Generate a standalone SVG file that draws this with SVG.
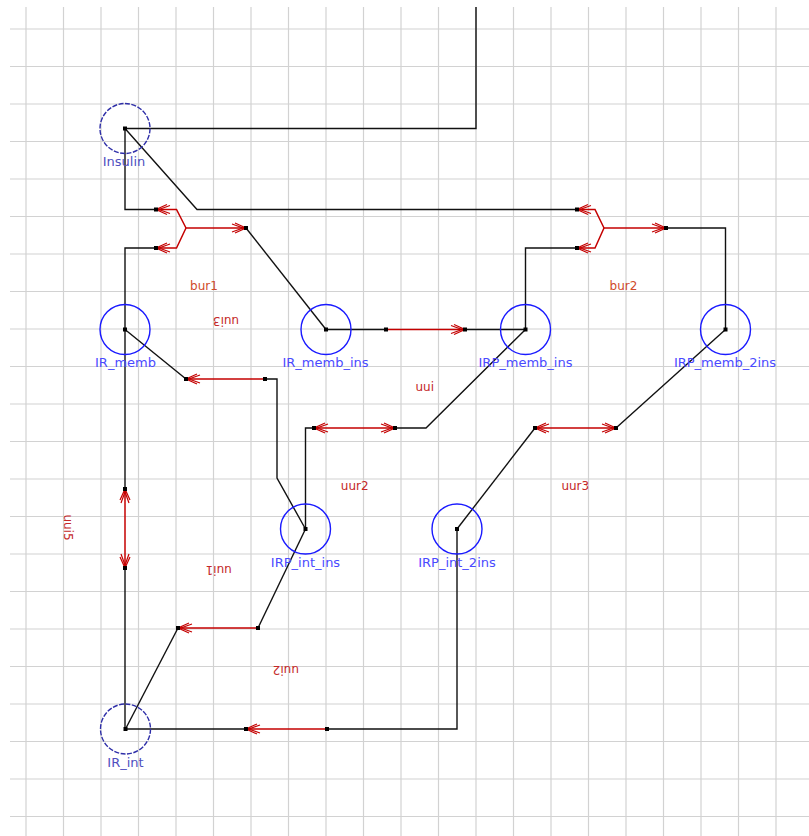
<svg xmlns="http://www.w3.org/2000/svg" width="809" height="836" viewBox="0 0 809 836">
<style>
.grid{fill:none;stroke:#d2d2d2;stroke-width:1.2}
.ln{fill:none;stroke:#111;stroke-width:1.4}
.rx{fill:none;stroke:#c40000;stroke-width:1.5}
.sq{fill:#000}
.nc{fill:none;stroke:#1a1aff;stroke-width:1.4}
.nd{fill:none;stroke:#2e2ea8;stroke-width:1.4;stroke-dasharray:5 1.5}
.nl{font-family:"DejaVu Sans",sans-serif;font-size:13px;fill:#4a4aff;text-anchor:middle}
.nld{font-family:"DejaVu Sans",sans-serif;font-size:13px;fill:#4f4fbf;text-anchor:middle}
.rl{font-family:"DejaVu Sans",sans-serif;font-size:12px;fill:#c42828;text-anchor:middle}
.rlb{font-family:"DejaVu Sans",sans-serif;font-size:12px;fill:#d04a2a;text-anchor:middle}
</style>
<defs>
<marker id="ah" viewBox="-16 -8 18 16" refX="0" refY="0" markerWidth="18" markerHeight="16" orient="auto-start-reverse" markerUnits="userSpaceOnUse">
<path d="M-11,-5 L0,0 L-11,5 M-14,-4 L-3,0 L-14,4" fill="none" stroke="#c40000" stroke-width="1.2"/>
</marker>
</defs>
<rect width="809" height="836" fill="#fff"/>
<path class="grid" d="M26,7V836M63.5,7V836M101,7V836M138.5,7V836M176,7V836M213.5,7V836M251,7V836M288.5,7V836M326,7V836M363.5,7V836M401,7V836M438.5,7V836M476,7V836M513.5,7V836M551,7V836M588.5,7V836M626,7V836M663.5,7V836M701,7V836M738.5,7V836M776,7V836
M10,29H809M10,66.5H809M10,104H809M10,141.5H809M10,179H809M10,216.5H809M10,254H809M10,291.5H809M10,329H809M10,366.5H809M10,404H809M10,441.5H809M10,479H809M10,516.5H809M10,554H809M10,591.5H809M10,629H809M10,666.5H809M10,704H809M10,741.5H809M10,779H809M10,816.5H809"/>

<g id="connectors">
<path class="ln" d="M125,128.5 L476,128.5 L476,7"/>
<path class="ln" d="M125,128.5 L197,209.5 L577,209.5"/>
<path class="ln" d="M125,128.5 L125,209.5 L156,209.5"/>
<path class="ln" d="M156,248 L125,248 L125,329.5"/>
<path class="ln" d="M246,228 L326,329.5"/>
<path class="ln" d="M525.5,329.5 L525.5,248 L577,248"/>
<path class="ln" d="M666,228 L725.5,228 L725.5,329.5"/>
<path class="ln" d="M125,329.5 L186,379"/>
<path class="ln" d="M265,379 L277,379 L277,478 L305.5,529"/>
<path class="ln" d="M326,329.5 L386,329.5"/>
<path class="ln" d="M465,329.5 L525.5,329.5"/>
<path class="ln" d="M525.5,329.5 L426,428 L395,428"/>
<path class="ln" d="M314,428 L305.5,428 L305.5,529"/>
<path class="ln" d="M725.5,329.5 L616,428"/>
<path class="ln" d="M535,428 L457,529"/>
<path class="ln" d="M305.5,529 L258,628"/>
<path class="ln" d="M178,628 L125.5,729"/>
<path class="ln" d="M457,529 L457,729 L327,729"/>
<path class="ln" d="M246,729 L125.5,729"/>
<path class="ln" d="M125,329.5 L125,489"/>
<path class="ln" d="M125,568 L125,729"/>

<g id="bur1">
<path class="rx" d="M186,228 L176.5,209.5 L156,209.5" marker-end="url(#ah)"/>
<path class="rx" d="M186,228 L176.5,248 L156,248" marker-end="url(#ah)"/>
<path class="rx" d="M186,228 L246,228" marker-end="url(#ah)"/>
</g>
<g id="bur2">
<path class="rx" d="M604,228 L595,209.5 L577,209.5" marker-end="url(#ah)"/>
<path class="rx" d="M604,228 L595,248 L577,248" marker-end="url(#ah)"/>
<path class="rx" d="M604,228 L666,228" marker-end="url(#ah)"/>
</g>
<path id="uui3" class="rx" d="M265,379 L186,379" marker-end="url(#ah)"/>
<path id="uui" class="rx" d="M386,329.5 L465,329.5" marker-end="url(#ah)"/>
<path id="uur2" class="rx" d="M314,428 L395,428" marker-start="url(#ah)" marker-end="url(#ah)"/>
<path id="uur3" class="rx" d="M535,428 L616,428" marker-start="url(#ah)" marker-end="url(#ah)"/>
<path id="uui1" class="rx" d="M258,628 L178,628" marker-end="url(#ah)"/>
<path id="uui2" class="rx" d="M327,729 L246,729" marker-end="url(#ah)"/>
<path id="uui5" class="rx" d="M125,489 L125,568" marker-start="url(#ah)" marker-end="url(#ah)"/>

<g id="squares">
<rect class="sq" x="154" y="207.5" width="4" height="4"/>
<rect class="sq" x="154" y="246" width="4" height="4"/>
<rect class="sq" x="244" y="226" width="4" height="4"/>
<rect class="sq" x="575" y="207.5" width="4" height="4"/>
<rect class="sq" x="575" y="246" width="4" height="4"/>
<rect class="sq" x="664" y="226" width="4" height="4"/>
<rect class="sq" x="184" y="377" width="4" height="4"/>
<rect class="sq" x="263" y="377" width="4" height="4"/>
<rect class="sq" x="384" y="327.5" width="4" height="4"/>
<rect class="sq" x="463" y="327.5" width="4" height="4"/>
<rect class="sq" x="312" y="426" width="4" height="4"/>
<rect class="sq" x="393" y="426" width="4" height="4"/>
<rect class="sq" x="533" y="426" width="4" height="4"/>
<rect class="sq" x="614" y="426" width="4" height="4"/>
<rect class="sq" x="176" y="626" width="4" height="4"/>
<rect class="sq" x="256" y="626" width="4" height="4"/>
<rect class="sq" x="244" y="727" width="4" height="4"/>
<rect class="sq" x="325" y="727" width="4" height="4"/>
<rect class="sq" x="123" y="487" width="4" height="4"/>
<rect class="sq" x="123" y="566" width="4" height="4"/>
</g>
</g>

<g id="labels">
<text class="rlb" x="204" y="289.5">bur1</text>
<text class="rlb" x="623.5" y="290">bur2</text>
<text class="rl" x="424.7" y="391">uui</text>
<text class="rl" x="354.7" y="489.5">uur2</text>
<text class="rl" x="575.3" y="489.5">uur3</text>
<text class="rl" x="226" y="325.3" transform="rotate(180 226 320.9)">uui3</text>
<text class="rl" x="218.7" y="574.5" transform="rotate(180 218.7 570.1)">uui1</text>
<text class="rl" x="285.8" y="675" transform="rotate(180 285.8 670.6)">uui2</text>
<text class="rl" x="68.7" y="531.9" transform="rotate(90 68.7 527.5)">uui5</text>
</g>

<g id="Insulin"><circle class="nd" cx="125" cy="128.5" r="25"/><rect class="sq" x="123" y="126.5" width="4" height="4"/><text class="nld" x="124" y="166">Insulin</text></g>
<g id="IR_memb"><circle class="nc" cx="125" cy="329.5" r="25"/><rect class="sq" x="123" y="327.5" width="4" height="4"/><text class="nl" x="125.5" y="367">IR_memb</text></g>
<g id="IR_memb_ins"><circle class="nc" cx="326" cy="329.5" r="25"/><rect class="sq" x="324" y="327.5" width="4" height="4"/><text class="nl" x="325.5" y="367">IR_memb_ins</text></g>
<g id="IRP_memb_ins"><circle class="nc" cx="525.5" cy="329.5" r="25"/><rect class="sq" x="523.5" y="327.5" width="4" height="4"/><text class="nl" x="525.5" y="367">IRP_memb_ins</text></g>
<g id="IRP_memb_2ins"><circle class="nc" cx="725.5" cy="329.5" r="25"/><rect class="sq" x="723.5" y="327.5" width="4" height="4"/><text class="nl" x="725" y="367">IRP_memb_2ins</text></g>
<g id="IRP_int_ins"><circle class="nc" cx="305.5" cy="529" r="25"/><rect class="sq" x="303.5" y="527" width="4" height="4"/><text class="nl" x="305.5" y="566.5">IRP_int_ins</text></g>
<g id="IRP_int_2ins"><circle class="nc" cx="457" cy="529" r="25"/><rect class="sq" x="455" y="527" width="4" height="4"/><text class="nl" x="457" y="566.5">IRP_int_2ins</text></g>
<g id="IR_int"><circle class="nd" cx="125.5" cy="729" r="25"/><rect class="sq" x="123.5" y="727" width="4" height="4"/><text class="nld" x="125.5" y="766.5">IR_int</text></g>
</svg>
